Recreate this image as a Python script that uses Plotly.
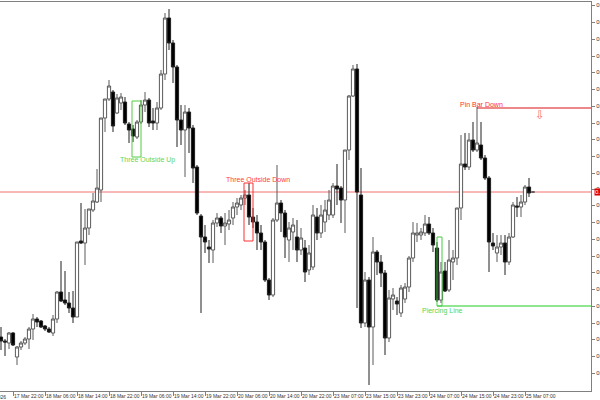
import plotly.graph_objects as go

# ---------------- data ----------------
open_ = [0.7663,0.7659,0.7657,0.7667,0.7643,0.7653,0.7657,0.7661,0.7671,0.7681,
         0.7679,0.7674,0.7671,0.7667,0.7681,0.7708,0.7700,0.7697,0.7692,0.7683,
         0.7759,0.7757,0.7772,0.7790,0.7798,0.7810,0.7882,0.7901,0.7908,0.7887,
         0.7897,0.7898,0.7876,0.7871,0.7863,0.7878,0.7895,0.7900,0.7879,0.7877,
         0.7892,0.7926,0.7982,0.7957,0.7933,0.7880,0.7870,0.7888,0.7872,0.7833,
         0.7784,0.7763,0.7753,0.7750,0.7777,0.7782,0.7774,0.7776,0.7782,0.7793,
         0.7795,0.7802,0.7805,0.7783,0.7778,0.7767,0.7758,0.7720,0.7705,0.7780,
         0.7797,0.7787,0.7760,0.7768,0.7763,0.7750,0.7752,0.7730,0.7733,0.7783,
         0.7767,0.7778,0.7785,0.7785,0.7814,0.7812,0.7800,0.7850,0.7904,0.7931,
         0.7805,0.7677,0.7720,0.7673,0.7748,0.7738,0.7727,0.7662,0.7701,0.7699,
         0.7687,0.7701,0.7713,0.7742,0.7765,0.7765,0.7767,0.7776,0.7767,0.7752,
         0.7700,0.7729,0.7710,0.7738,0.7742,0.7792,0.7836,0.7833,0.7860,0.7850,
         0.7855,0.7842,0.7822,0.7757,0.7747,0.7753,0.7757,0.7738,0.7763,0.7794,
         0.7793,0.7798,0.7813,0.7808]
close = [0.7659,0.7658,0.7667,0.7655,0.7653,0.7657,0.7661,0.7671,0.7681,0.7678,
         0.7673,0.7671,0.7668,0.7681,0.7708,0.7699,0.7697,0.7692,0.7683,0.7758,
         0.7757,0.7772,0.7791,0.7799,0.7812,0.7882,0.7901,0.7914,0.7874,0.7902,
         0.7903,0.7877,0.7870,0.7864,0.7878,0.7895,0.7900,0.7877,0.7877,0.7892,
         0.7926,0.7982,0.7957,0.7933,0.7880,0.7870,0.7888,0.7872,0.7832,0.7787,
         0.7763,0.7758,0.7751,0.7777,0.7782,0.7774,0.7777,0.7780,0.7793,0.7797,
         0.7802,0.7805,0.7783,0.7778,0.7767,0.7758,0.7720,0.7705,0.7780,0.7797,
         0.7787,0.7763,0.7772,0.7775,0.7750,0.7762,0.7728,0.7747,0.7785,0.7767,
         0.7785,0.7790,0.7800,0.7814,0.7811,0.7800,0.7850,0.7904,0.7931,0.7808,
         0.7677,0.7720,0.7673,0.7748,0.7738,0.7727,0.7662,0.7702,0.7705,0.7696,
         0.7712,0.7713,0.7742,0.7767,0.7767,0.7768,0.7776,0.7767,0.7755,0.7700,
         0.7728,0.7709,0.7740,0.7742,0.7792,0.7836,0.7833,0.7860,0.7850,0.7857,
         0.7842,0.7822,0.7758,0.7754,0.7753,0.7757,0.7738,0.7763,0.7795,0.7793,
         0.7798,0.7813,0.7807,0.7808]
high = [0.7673,0.7661,0.7668,0.7668,0.7654,0.7659,0.7663,0.7673,0.7686,0.7683,
        0.7680,0.7675,0.7673,0.7685,0.7709,0.7739,0.7729,0.7708,0.7709,0.7758,
        0.7797,0.7791,0.7791,0.7807,0.7831,0.7882,0.7901,0.7920,0.7910,0.7906,
        0.7907,0.7903,0.7878,0.7875,0.7880,0.7900,0.7908,0.7902,0.7892,0.7898,
        0.7930,0.7987,0.7991,0.7960,0.7935,0.7895,0.7895,0.7892,0.7875,0.7835,
        0.7786,0.7775,0.7760,0.7780,0.7787,0.7784,0.7787,0.7790,0.7798,0.7802,
        0.7805,0.7810,0.7817,0.7792,0.7785,0.7775,0.7760,0.7722,0.7782,0.7835,
        0.7800,0.7790,0.7778,0.7782,0.7780,0.7772,0.7760,0.7755,0.7795,0.7792,
        0.7795,0.7800,0.7810,0.7817,0.7836,0.7814,0.7850,0.7905,0.7935,0.7936,
        0.7832,0.7728,0.7723,0.7763,0.7750,0.7745,0.7730,0.7710,0.7712,0.7703,
        0.7715,0.7717,0.7744,0.7778,0.7777,0.7772,0.7785,0.7783,0.7772,0.7758,
        0.7738,0.7738,0.7760,0.7750,0.7792,0.7865,0.7867,0.7867,0.7878,0.7893,
        0.7878,0.7845,0.7824,0.7767,0.7765,0.7765,0.7765,0.7767,0.7798,0.7803,
        0.7805,0.7815,0.7822,0.7809]
low = [0.7650,0.7644,0.7651,0.7654,0.7635,0.7650,0.7655,0.7651,0.7660,0.7673,
       0.7672,0.7669,0.7667,0.7664,0.7677,0.7698,0.7695,0.7687,0.7677,0.7683,
       0.7756,0.7735,0.7765,0.7788,0.7797,0.7798,0.7868,0.7899,0.7868,0.7886,
       0.7890,0.7875,0.7857,0.7858,0.7861,0.7876,0.7888,0.7873,0.7870,0.7870,
       0.7890,0.7920,0.7950,0.7917,0.7853,0.7855,0.7823,0.7847,0.7817,0.7785,
       0.7687,0.7747,0.7737,0.7737,0.7773,0.7767,0.7755,0.7770,0.7775,0.7785,
       0.7790,0.7795,0.7775,0.7772,0.7750,0.7750,0.7718,0.7700,0.7703,0.7778,
       0.7768,0.7742,0.7738,0.7750,0.7738,0.7745,0.7718,0.7725,0.7730,0.7760,
       0.7762,0.7768,0.7780,0.7782,0.7795,0.7777,0.7767,0.7840,0.7903,0.7692,
       0.7672,0.7673,0.7615,0.7635,0.7725,0.7713,0.7645,0.7658,0.7690,0.7685,
       0.7683,0.7697,0.7708,0.7738,0.7758,0.7760,0.7764,0.7765,0.7748,0.7698,
       0.7697,0.7708,0.7708,0.7720,0.7735,0.7780,0.7830,0.7830,0.7848,0.7848,
       0.7840,0.7820,0.7728,0.7750,0.7738,0.7745,0.7725,0.7735,0.7762,0.7783,
       0.7783,0.7795,0.7803,0.7807]

tick_index = [3, 11, 19, 27, 35, 43, 51, 59, 67, 75, 83, 91, 99, 107, 115, 123, 131]
tick_labels = ["17 Mar 22:00", "18 Mar 06:00", "18 Mar 14:00", "18 Mar 22:00",
               "19 Mar 06:00", "19 Mar 14:00", "19 Mar 22:00", "20 Mar 06:00",
               "20 Mar 14:00", "20 Mar 22:00", "23 Mar 07:00", "23 Mar 15:00",
               "23 Mar 23:00", "24 Mar 07:00", "24 Mar 15:00", "24 Mar 23:00",
               "25 Mar 07:00"]
first_label = "17 Mar 2026"

price_ticks = [0.7995, 0.7978, 0.7961, 0.7944, 0.7928, 0.7911, 0.7894, 0.7877,
               0.7861, 0.7844, 0.7827, 0.7811, 0.7795, 0.7778, 0.7761, 0.7744,
               0.7728, 0.7711, 0.7694, 0.7677, 0.7661, 0.7644, 0.7627]

# pattern boxes
pattern_names = ["Three Outside Up", "Three Outside Down", "Piercing Line"]
pattern_x0 = [32.75, 60.75, 109.0]
pattern_x1 = [35.0, 63.0, 110.25]
pattern_top = [0.7899, 0.7817, 0.7763]
pattern_bottom = [0.7843, 0.7759, 0.7694]
pattern_colors = ["#55cc44", "#ff3030", "#44cc44"]
label_x = [36.5, 64.25, 110.25]
label_y = [0.7840, 0.7821, 0.7689]
label_colors = ["#66d455", "#ff4040", "#55d455"]

pinbar_index = 119
pinbar_level = 0.7892
piercing_level = 0.7694

X_RANGE = [-0.25, 147.5]
Y_RANGE = [0.7609, 0.7998]

x = list(range(len(open_)))

fig = go.Figure()
fig.add_trace(go.Candlestick(
    x=x, open=open_, high=high, low=low, close=close,
    increasing=dict(line=dict(color="#5a5a5a", width=1), fillcolor="white"),
    decreasing=dict(line=dict(color="#202020", width=1), fillcolor="black"),
    whiskerwidth=0, showlegend=False, hoverinfo="skip"))

shapes = []
shapes.append(dict(type="line", xref="paper", x0=0, x1=1, yref="y",
                   y0=close[-1], y1=close[-1], line=dict(color="#f07070", width=1), layer="below"))
shapes.append(dict(type="line", xref="x", x0=pinbar_index, x1=X_RANGE[1], yref="y",
                   y0=pinbar_level, y1=pinbar_level, line=dict(color="#dd1111", width=1)))
shapes.append(dict(type="line", xref="x", x0=pattern_x0[2], x1=X_RANGE[1], yref="y",
                   y0=piercing_level, y1=piercing_level, line=dict(color="#22cc22", width=1)))
for i in range(len(pattern_names)):
    shapes.append(dict(type="rect", xref="x", yref="y",
                       x0=pattern_x0[i], x1=pattern_x1[i],
                       y0=pattern_bottom[i], y1=pattern_top[i],
                       line=dict(color=pattern_colors[i], width=1), fillcolor="rgba(0,0,0,0)"))

annotations = []
for i in range(len(pattern_names)):
    annotations.append(dict(x=label_x[i], y=label_y[i], xref="x", yref="y",
                            text=pattern_names[i], showarrow=False,
                            font=dict(family="Liberation Sans", size=7, color=label_colors[i]),
                            xanchor="center", yanchor="middle"))
annotations.append(dict(x=pinbar_index + 1, y=pinbar_level + 0.0004, xref="x", yref="y",
                        text="Pin Bar Down", showarrow=False,
                        font=dict(family="Liberation Sans", size=7, color="#ff3030"),
                        xanchor="center", yanchor="middle"))
annotations.append(dict(x=134.75, y=pinbar_level - 0.0007, xref="x", yref="y",
                        text="⇩", showarrow=False,
                        font=dict(family="DejaVu Sans", size=12, color="#ff7070"),
                        xanchor="center", yanchor="middle"))
annotations.append(dict(x=1, y=close[-1], xref="paper", yref="y", xshift=3,
                        text="%.4f" % close[-1], showarrow=False, bgcolor="#dd0000",
                        font=dict(family="Liberation Sans", size=6, color="white"),
                        xanchor="left", yanchor="middle", borderpad=0))
annotations.append(dict(x=0, y=0, xref="paper", yref="paper", xshift=8, yshift=-1,
                        text=first_label, showarrow=False,
                        font=dict(family="Liberation Sans", size=5, color="#333333"),
                        xanchor="right", yanchor="top"))

fig.update_layout(
    width=600, height=400,
    margin=dict(l=0, r=9, t=2, b=9, pad=0),
    paper_bgcolor="white", plot_bgcolor="white",
    boxgap=0.2, boxgroupgap=0,
    shapes=shapes, annotations=annotations,
    xaxis=dict(range=X_RANGE, rangeslider=dict(visible=False), showgrid=False,
               zeroline=False, showline=True, linecolor="#808080", linewidth=1,
               mirror=True, ticks="outside", ticklen=4, tickcolor="#808080",
               tickvals=tick_index, ticktext=tick_labels, tickangle=0,
               ticklabelposition="outside right", automargin=False,
               tickfont=dict(family="Liberation Sans", size=5, color="#333333")),
    yaxis=dict(range=Y_RANGE, side="right", showgrid=False, zeroline=False,
               showline=True, linecolor="#808080", linewidth=1, automargin=False,
               ticks="outside", ticklen=3, tickcolor="#808080",
               tickvals=price_ticks, tickformat=".4f",
               tickfont=dict(family="Liberation Sans", size=6, color="#333333")),
)

fig.write_html("out.html", config={"displayModeBar": False},
               post_script="document.body.style.margin='0';")
